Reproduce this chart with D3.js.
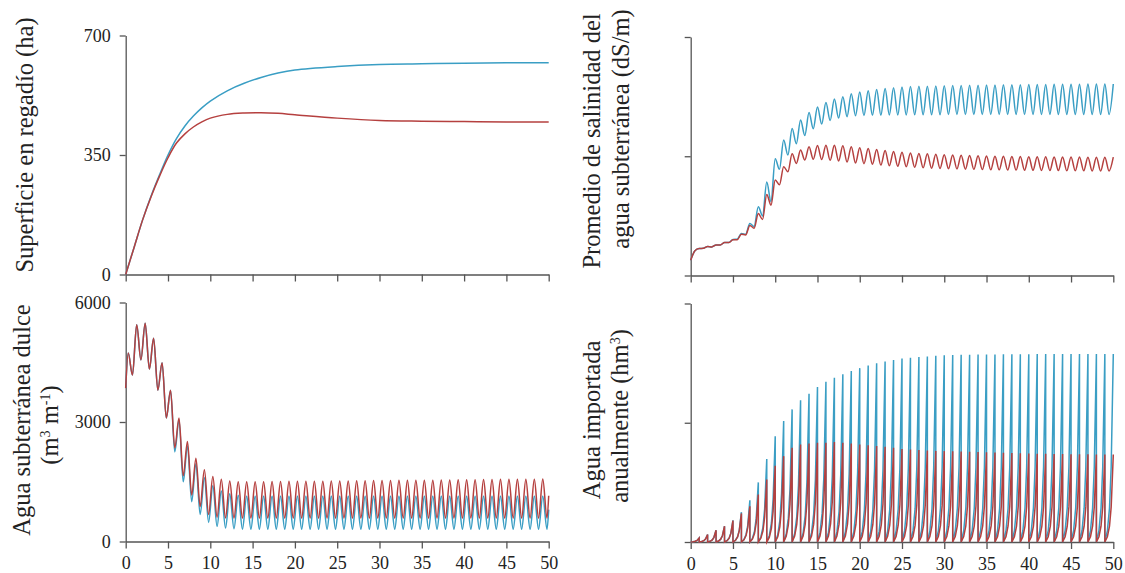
<!DOCTYPE html>
<html>
<head>
<meta charset="utf-8">
<script src="https://cdn.jsdelivr.net/npm/d3@7"></script>
<style>
body { margin: 0; background: #fff; }
text { font-family: "Liberation Serif", "Times New Roman", serif; fill: #222; }
.axis text { font-size: 18px; }
.title { font-size: 24.5px; }
</style>
</head>
<body>
<svg></svg>
<script>
var width = 1125,
    height = 573;

var blue = "#3a9ec4",
    red = "#b5403f";

var xTicks = [0, 5, 10, 15, 20, 25, 30, 35, 40, 45, 50];

// Superficie en regadío (ha)
var areaYears = [0, 1, 2, 3, 4, 5, 6, 7, 8, 9, 10, 12, 14, 16, 18, 20, 25, 30, 35, 40, 45, 50];
var areaBlue = [0, 80, 160, 230, 292, 350, 398, 435, 464, 488, 508, 538, 560, 577, 590, 599, 609, 615, 617, 619, 620, 620];
var areaRed = [0, 80, 160, 228, 288, 342, 385, 412, 432, 447, 458, 469, 473, 474, 472, 468, 458, 451, 449, 448, 447, 447];
var areaTicks = [0, 350, 700];

// Agua subterránea dulce: annual peak (k+0.3) and trough (k+0.8)
var gwStart = 3850;
var gwRedPeaks = [4730, 5440, 5480, 5100, 4490, 3800, 3100, 2510, 2090, 1800,
    1630, 1560, 1520, 1500, 1500, 1500, 1500, 1505, 1505, 1510,
    1510, 1510, 1515, 1515, 1520, 1520, 1520, 1525, 1525, 1530,
    1530, 1530, 1535, 1535, 1540, 1540, 1540, 1545, 1545, 1550,
    1550, 1550, 1555, 1555, 1560, 1560, 1560, 1565, 1565, 1570];
var gwRedTroughs = [4180, 4560, 4330, 3800, 3100, 2350, 1650, 1170, 880, 680,
    610, 590, 585, 585, 585, 585, 585, 585, 585, 585,
    585, 585, 585, 585, 585, 585, 585, 585, 585, 585,
    585, 585, 585, 585, 585, 585, 585, 585, 585, 585,
    585, 585, 585, 585, 585, 585, 585, 585, 585, 585];
var gwBluePeaks = [4730, 5440, 5480, 5100, 4490, 3800, 3050, 2400, 1950, 1600,
    1400, 1270, 1200, 1160, 1140, 1140, 1140, 1140, 1140, 1140,
    1140, 1140, 1140, 1140, 1140, 1140, 1140, 1140, 1140, 1140,
    1140, 1140, 1140, 1140, 1140, 1140, 1140, 1140, 1140, 1140,
    1140, 1140, 1140, 1140, 1140, 1140, 1140, 1140, 1140, 1140];
var gwBlueTroughs = [4180, 4560, 4330, 3800, 3100, 2250, 1500, 1000, 680, 480,
    380, 340, 320, 310, 310, 310, 310, 310, 310, 310,
    310, 310, 310, 310, 310, 310, 310, 310, 310, 310,
    310, 310, 310, 310, 310, 310, 310, 310, 310, 310,
    310, 310, 310, 310, 310, 310, 310, 310, 310, 310];
var gwEndRed = 1150, gwEndBlue = 800;
var gwTicks = [0, 3000, 6000];

// Promedio de salinidad (relative scale): trough at k+0.5, peak at k+1
var salStart = 6.4;
var salBlueTroughs = [10.4, 11.4, 12.0, 12.8, 13.8, 15.2, 17.3, 20.5, 25.0, 31.0,
    44.5, 50.5, 55.2, 58.7, 61.5, 63.5, 65.0, 66.0, 66.6, 67.0,
    67.1, 67.2, 67.2, 67.3, 67.3, 67.3, 67.4, 67.4, 67.4, 67.4,
    67.5, 67.5, 67.5, 67.5, 67.5, 67.5, 67.5, 67.5, 67.5, 67.5,
    67.5, 67.5, 67.5, 67.5, 67.5, 67.5, 67.5, 67.5, 67.5, 67.5];
var salBluePeaks = [11.3, 12.2, 12.8, 13.8, 15.1, 17.6, 21.8, 28.8, 39.2, 49.0,
    56.8, 61.6, 65.2, 68.3, 70.6, 72.5, 74.0, 75.0, 76.2, 76.9,
    77.5, 78.0, 78.4, 78.7, 79.0, 79.2, 79.3, 79.4, 79.5, 79.6,
    79.7, 79.7, 79.8, 79.8, 79.9, 79.9, 80.0, 80.0, 80.0, 80.1,
    80.1, 80.1, 80.2, 80.2, 80.2, 80.2, 80.3, 80.3, 80.3, 80.3];
var salRedTroughs = [10.4, 11.4, 12.0, 12.8, 13.8, 15.0, 17.0, 19.8, 23.5, 29.5,
    38.0, 43.5, 47.0, 48.4, 48.7, 48.6, 48.3, 48.0, 47.6, 47.2,
    46.9, 46.6, 46.3, 46.0, 45.8, 45.6, 45.4, 45.2, 45.0, 44.9,
    44.8, 44.7, 44.6, 44.5, 44.4, 44.3, 44.3, 44.2, 44.2, 44.1,
    44.1, 44.0, 44.0, 44.0, 43.9, 43.9, 43.9, 43.8, 43.8, 43.8];
var salRedPeaks = [11.3, 12.2, 12.8, 13.8, 15.0, 17.3, 21.0, 26.0, 34.0, 40.0,
    45.6, 51.0, 52.6, 54.0, 54.5, 54.6, 54.6, 54.4, 54.0, 53.6,
    53.2, 52.8, 52.4, 52.0, 51.7, 51.4, 51.2, 51.0, 50.8, 50.6,
    50.5, 50.4, 50.3, 50.2, 50.1, 50.0, 50.0, 49.9, 49.9, 49.8,
    49.8, 49.8, 49.7, 49.7, 49.7, 49.7, 49.6, 49.6, 49.6, 49.6];
var relTicks = [0, 50, 100];

// Agua importada anualmente (relative scale): yearly peak reached at end of each year
var impBluePeaks = [1.7, 3.1, 4.9, 6.6, 9.1, 12.5, 17.5, 25.0, 34.8, 44.3,
    50.7, 55.6, 59.4, 62.2, 65.0, 67.2, 68.9, 70.3, 71.7, 72.9,
    74.0, 74.9, 75.7, 76.3, 76.9, 77.3, 77.6, 77.8, 78.1, 78.3,
    78.4, 78.5, 78.5, 78.6, 78.6, 78.6, 78.7, 78.7, 78.7, 78.7,
    78.8, 78.8, 78.8, 78.8, 78.8, 78.8, 78.8, 78.8, 78.8, 78.8];
var impRedPeaks = [1.7, 3.1, 4.9, 6.6, 9.0, 12.0, 15.0, 19.9, 26.2, 32.0,
    36.0, 39.5, 40.9, 41.3, 41.6, 41.6, 41.9, 41.6, 41.3, 40.9,
    40.6, 40.2, 39.9, 39.5, 39.0, 38.8, 38.6, 38.4, 38.2, 38.1,
    38.0, 37.9, 37.8, 37.7, 37.6, 37.5, 37.4, 37.3, 37.2, 37.1,
    37.0, 37.0, 36.9, 36.9, 36.8, 36.8, 36.8, 36.7, 36.7, 36.7];
// shape of one yearly tooth: time within year and share of the year's peak
var toothTime = [0, 0.3, 0.55, 0.75, 1.0];
var toothLevel = [0, 0.06, 0.18, 0.4, 1.0];

var svg = d3.select("svg")
    .attr("width", width)
    .attr("height", height);

function wave(start, firstVals, firstOff, secondVals, secondOff, end) {
    var pts = [[0, start]];
    for (var k = 0; k < 50; k++) {
        pts.push([k + firstOff, firstVals[k]]);
        pts.push([k + secondOff, secondVals[k]]);
    }
    if (end != null) pts.push([50, end]);
    return pts;
}

function teeth(peaks) {
    var pts = [];
    peaks.forEach(function (p, k) {
        toothTime.forEach(function (f, i) {
            pts.push([k + f, p * toothLevel[i]]);
        });
    });
    return pts;
}

function drawPanel(p) {
    var x = d3.scaleLinear().domain([0, 50]).range([p.x0, p.x1]);
    var y = d3.scaleLinear().domain([p.yTicks[0], p.yTicks[2]]).range([p.y1, p.y0]);

    var g = svg.append("g");

    g.append("g")
        .attr("class", "axis")
        .attr("color", "#555")
        .attr("transform", "translate(0," + p.y1 + ")")
        .call(d3.axisBottom(x)
            .tickValues(xTicks)
            .tickSize(7)
            .tickSizeOuter(0)
            .tickPadding(8)
            .tickFormat(p.xLabels ? d3.format("d") : ""));

    g.append("g")
        .attr("class", "axis")
        .attr("color", "#555")
        .attr("transform", "translate(" + p.x0 + ",0)")
        .call(d3.axisLeft(y)
            .tickValues(p.yTicks)
            .tickSize(6)
            .tickSizeOuter(0)
            .tickPadding(9)
            .tickFormat(p.yLabels ? d3.format("d") : ""));

    g.selectAll(".axis path, .axis line").attr("stroke-width", 1.3);
    g.selectAll(".axis text").attr("fill", "#222");

    var line = d3.line()
        .x(function (d) { return x(d[0]); })
        .y(function (d) { return y(d[1]); })
        .curve(p.curve);

    p.series.forEach(function (s) {
        g.append("path")
            .datum(s.data)
            .attr("fill", "none")
            .attr("stroke", s.color)
            .attr("stroke-width", 1.5)
            .attr("d", line);
    });

    p.titles.forEach(function (t) {
        var txt = g.append("text")
            .attr("class", "title")
            .attr("transform", "translate(" + t.cx + "," + t.cy + ") rotate(-90)")
            .attr("text-anchor", "middle")
            .attr("dy", "0.32em");
        t.parts.forEach(function (part) {
            var ts = txt.append("tspan").text(part.s);
            if (part.sup) ts.attr("font-size", 14).attr("dy", -8);
            if (part.after) ts.attr("dy", 8);
        });
    });
}

var panels = [
    {
        x0: 125.7, x1: 548.7, y0: 35.5, y1: 274.5,
        yTicks: areaTicks, yLabels: true, xLabels: false,
        curve: d3.curveCatmullRom.alpha(0.5),
        series: [
            { color: blue, data: areaYears.map(function (t, i) { return [t, areaBlue[i]]; }) },
            { color: red, data: areaYears.map(function (t, i) { return [t, areaRed[i]]; }) }
        ],
        titles: [{ cx: 25, cy: 145, parts: [{ s: "Superficie en regadío (ha)" }] }]
    },
    {
        x0: 125.7, x1: 548.7, y0: 302.5, y1: 541.5,
        yTicks: gwTicks, yLabels: true, xLabels: true,
        curve: d3.curveMonotoneX,
        series: [
            { color: blue, data: wave(gwStart, gwBluePeaks, 0.3, gwBlueTroughs, 0.8, gwEndBlue) },
            { color: red, data: wave(gwStart, gwRedPeaks, 0.3, gwRedTroughs, 0.8, gwEndRed) }
        ],
        titles: [
            { cx: 22, cy: 420, parts: [{ s: "Agua subterránea dulce" }] },
            { cx: 50, cy: 425, parts: [{ s: "(m" }, { s: "3", sup: true }, { s: " m", after: true }, { s: "-1", sup: true }, { s: ")", after: true }] }
        ]
    },
    {
        x0: 690.7, x1: 1113.3, y0: 37, y1: 275.5,
        yTicks: relTicks, yLabels: false, xLabels: false,
        curve: d3.curveMonotoneX,
        series: [
            { color: blue, data: wave(salStart, salBlueTroughs, 0.5, salBluePeaks, 1.0, null) },
            { color: red, data: wave(salStart, salRedTroughs, 0.5, salRedPeaks, 1.0, null) }
        ],
        titles: [
            { cx: 592, cy: 141, parts: [{ s: "Promedio de salinidad del" }] },
            { cx: 621, cy: 129, parts: [{ s: "agua subterránea (dS/m)" }] }
        ]
    },
    {
        x0: 690.7, x1: 1113.3, y0: 303.5, y1: 542,
        yTicks: relTicks, yLabels: false, xLabels: true,
        curve: d3.curveLinear,
        series: [
            { color: blue, data: teeth(impBluePeaks) },
            { color: red, data: teeth(impRedPeaks) }
        ],
        titles: [
            { cx: 592, cy: 420, parts: [{ s: "Agua importada" }] },
            { cx: 620, cy: 416, parts: [{ s: "anualmente (hm" }, { s: "3", sup: true }, { s: ")", after: true }] }
        ]
    }
];

panels.forEach(drawPanel);
</script>
</body>
</html>
